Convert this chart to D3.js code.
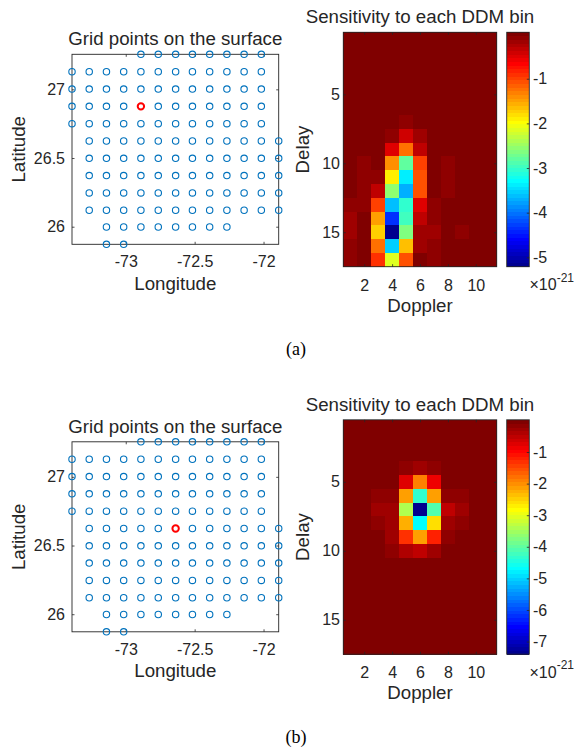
<!DOCTYPE html>
<html>
<head>
<meta charset="utf-8">
<script src="https://d3js.org/d3.v7.min.js"></script>
<style>
  body { margin: 0; background: #fff; }
  svg { display: block; }
</style>
</head>
<body>
<svg width="576" height="752"></svg>
<script>
const FONT = '"Liberation Sans", Arial, Helvetica, sans-serif';
const INK = "#262626";

// grid point longitudes (columns) and latitudes (rows, top row first)
const gridLon = [-73.390, -73.265, -73.140, -73.015, -72.890, -72.764, -72.638,
                 -72.516, -72.391, -72.266, -72.141, -72.016, -71.890];
const gridLat = [27.255, 27.128, 27.002, 26.876, 26.750, 26.624,
                 26.498, 26.372, 26.246, 26.120, 25.998, 25.872];
// first and last column that has a point, for each row
const rowFirst = [4, 0, 0, 0, 0, 1, 1, 1, 1, 1, 2, 2];
const rowLast  = [11, 11, 11, 11, 11, 12, 12, 12, 12, 12, 9, 3];
// highlighted (red) grid point of each case
const targetA = [-72.890, 26.876];
const targetB = [-72.638, 26.624];

const lonLim = [-73.390, -71.890];
const latLim = [25.872, 27.255];
const lonTicks = [-73, -72.5, -72];
const latTicks = [26, 26.5, 27];

const dopplerTicks = [2, 4, 6, 8, 10];
const delayTicks = [5, 10, 15];

// sensitivity (x 1e-21), rows = delay 1..17, columns = doppler 1..11
const sensA = [
  [0, 0, 0, 0, 0, 0, 0, 0, 0, 0, 0],
  [0, 0, 0, 0, 0, 0, 0, 0, 0, 0, 0],
  [0, 0, 0, 0, 0, 0, 0, 0, 0, 0, 0],
  [0, 0, 0, 0, 0, 0, 0, 0, 0, 0, 0],
  [0, 0, 0, 0, 0, 0, 0, 0, 0, 0, 0],
  [0, 0, 0, 0, 0, 0, 0, 0, 0, 0, 0],
  [0, 0, 0, 0, -0.1, 0, 0, 0, 0, 0, 0],
  [0, 0, 0, -0.12, -0.4, -0.2, 0, 0, 0, 0, 0],
  [0, 0, 0, -0.5, -1.23, -0.35, 0, 0, 0, 0, 0],
  [0, -0.1, 0, -1.4, -2.8, -0.98, 0, -0.1, 0, 0, 0],
  [0, -0.1, -0.1, -1.89, -3.37, -1.07, 0, -0.1, 0, 0, 0],
  [0, -0.1, -0.35, -2.57, -3.7, -1.07, 0, -0.1, 0, 0, 0],
  [-0.1, -0.1, -0.98, -3.61, -3.0, -0.5, -0.1, 0, 0, 0, 0],
  [-0.17, 0, -1.47, -4.35, -2.92, -0.35, -0.12, 0, 0, 0, 0],
  [-0.17, 0, -1.72, -5.21, -2.66, -0.17, -0.15, 0, -0.1, 0, 0],
  [-0.12, 0, -1.23, -3.53, -1.64, -0.17, -0.12, 0, 0, 0, 0],
  [-0.12, 0, -0.9, -2.13, -1.07, 0.04, -0.12, 0, 0, 0, 0]
];
const sensB = [
  [0, 0, 0, 0, 0, 0, 0, 0, 0, 0, 0],
  [0, 0, 0, 0, 0, 0, 0, 0, 0, 0, 0],
  [0, 0, 0, 0, 0, 0, 0, 0, 0, 0, 0],
  [0, 0, 0, 0, -0.15, -0.3, -0.15, 0, 0, 0, 0],
  [0, 0, 0, 0, -0.74, -1.85, -0.9, 0, 0, 0, 0],
  [0, 0, -0.15, -0.15, -2.08, -4.3, -2.08, -0.15, -0.15, 0, 0],
  [0, 0, -0.27, -0.27, -3.4, -7.4, -4.1, -0.45, -0.27, 0, 0],
  [0, 0, -0.15, -0.27, -2.2, -4.68, -2.55, -0.27, -0.15, 0, 0],
  [0, 0, 0, -0.27, -1.27, -2.08, -1.15, -0.15, 0, 0, 0],
  [0, 0, 0, -0.15, -0.39, -0.5, -0.27, 0, 0, 0, 0],
  [0, 0, 0, 0, 0, 0, 0, 0, 0, 0, 0],
  [0, 0, 0, 0, 0, 0, 0, 0, 0, 0, 0],
  [0, 0, 0, 0, 0, 0, 0, 0, 0, 0, 0],
  [0, 0, 0, 0, 0, 0, 0, 0, 0, 0, 0],
  [0, 0, 0, 0, 0, 0, 0, 0, 0, 0, 0],
  [0, 0, 0, 0, 0, 0, 0, 0, 0, 0, 0],
  [0, 0, 0, 0, 0, 0, 0, 0, 0, 0, 0]
];
const climA = [-5.21, 0.04];
const climB = [-7.40, 0.02];
const cbTicksA = [-5, -4, -3, -2, -1];
const cbTicksB = [-7, -6, -5, -4, -3, -2, -1];

// matlab jet(m)
function jet(m) {
  const n = Math.ceil(m / 4);
  const u = [];
  for (let i = 1; i <= n; i++) u.push(i / n);
  for (let i = 1; i < n; i++) u.push(1);
  for (let i = n; i >= 1; i--) u.push(i / n);
  const off = Math.ceil(n / 2) - (m % 4 === 1 ? 1 : 0);
  const val = k => (k >= 1 && k <= u.length) ? u[k - 1] : 0;
  const out = [];
  for (let i = 1; i <= m; i++) {
    out.push(d3.rgb(255 * val(i - off - n), 255 * val(i - off), 255 * val(i - off + n)).formatHex());
  }
  return out;
}
const jetColors = jet(64);

const svg = d3.select("svg");
const TICKFS = 16;

function styleAxis(sel) {
  sel.attr("font-family", FONT).attr("font-size", TICKFS).attr("color", INK);
  sel.select(".domain").remove();
  sel.selectAll("line").attr("stroke-width", 0.8);
}

function panel(dy, target, sens, clim, cbTicks, caption) {
  const g = svg.append("g").attr("transform", `translate(0,${dy})`);
  const tl = 2.5;

  // ---- left: grid points ----
  const x = d3.scaleLinear().domain(lonLim).range([72, 278.7]);
  const y = d3.scaleLinear().domain(latLim).range([244.3, 54.3]);

  g.append("g").attr("transform", "translate(0,244.3)")
    .call(d3.axisBottom(x).tickValues(lonTicks).tickFormat(d => String(d))
      .tickSizeInner(-tl).tickSizeOuter(0).tickPadding(11.6)).call(styleAxis);
  g.append("g").attr("transform", "translate(0,54.3)")
    .call(d3.axisTop(x).tickValues(lonTicks).tickFormat("").tickSizeInner(-tl).tickSizeOuter(0))
    .call(styleAxis);
  g.append("g").attr("transform", "translate(72,0)")
    .call(d3.axisLeft(y).tickValues(latTicks).tickFormat(d => String(d))
      .tickSizeInner(-tl).tickSizeOuter(0).tickPadding(7)).call(styleAxis);
  g.append("g").attr("transform", "translate(278.7,0)")
    .call(d3.axisRight(y).tickValues(latTicks).tickFormat("").tickSizeInner(-tl).tickSizeOuter(0))
    .call(styleAxis);

  g.append("rect").attr("x", 72).attr("y", 54.3).attr("width", 206.7).attr("height", 190)
    .attr("fill", "none").attr("stroke", INK).attr("stroke-width", 0.9);

  const pts = [];
  gridLat.forEach((lat, r) => {
    for (let k = rowFirst[r]; k <= rowLast[r]; k++) pts.push([gridLon[k], lat]);
  });
  g.append("g").selectAll("circle")
    .data(pts.filter(p => !(p[0] === target[0] && p[1] === target[1])))
    .join("circle")
    .attr("cx", d => x(d[0])).attr("cy", d => y(d[1])).attr("r", 3.2)
    .attr("fill", "none").attr("stroke", "#0072BD").attr("stroke-width", 1.1);
  g.append("circle").attr("cx", x(target[0])).attr("cy", y(target[1])).attr("r", 3.2)
    .attr("fill", "none").attr("stroke", "#FF0000").attr("stroke-width", 2);

  g.append("text").attr("x", 175.3).attr("y", 45).attr("text-anchor", "middle")
    .attr("font-family", FONT).attr("font-size", 18.7).attr("fill", INK)
    .text("Grid points on the surface");
  g.append("text").attr("x", 175.3).attr("y", 289.5).attr("text-anchor", "middle")
    .attr("font-family", FONT).attr("font-size", 18.7).attr("fill", INK)
    .text("Longitude");
  g.append("text").attr("transform", "translate(25,149.3) rotate(-90)").attr("text-anchor", "middle")
    .attr("font-family", FONT).attr("font-size", 18.7).attr("fill", INK)
    .text("Latitude");

  // ---- right: DDM sensitivity ----
  const hx = d3.scaleLinear().domain([0.5, 11.5]).range([343.3, 496.7]);
  const hy = d3.scaleLinear().domain([0.5, 17.5]).range([32.3, 266.7]);
  const color = d3.scaleQuantize().domain(clim).range(jetColors);

  const cells = sens.flatMap((row, i) => row.map((v, j) => ({ delay: i + 1, doppler: j + 1, v })));
  g.append("g").attr("shape-rendering", "crispEdges").selectAll("rect")
    .data(cells).join("rect")
    .attr("x", d => hx(d.doppler - 0.5)).attr("y", d => hy(d.delay - 0.5))
    .attr("width", d => hx(d.doppler + 0.5) - hx(d.doppler - 0.5) + 0.3)
    .attr("height", d => hy(d.delay + 0.5) - hy(d.delay - 0.5) + 0.3)
    .attr("fill", d => color(d.v));

  g.append("g").attr("transform", "translate(0,266.7)")
    .call(d3.axisBottom(hx).tickValues(dopplerTicks).tickFormat(d => String(d))
      .tickSizeInner(-tl).tickSizeOuter(0).tickPadding(12.6)).call(styleAxis);
  g.append("g").attr("transform", "translate(0,32.3)")
    .call(d3.axisTop(hx).tickValues(dopplerTicks).tickFormat("").tickSizeInner(-tl).tickSizeOuter(0))
    .call(styleAxis);
  g.append("g").attr("transform", "translate(343.3,0)")
    .call(d3.axisLeft(hy).tickValues(delayTicks).tickFormat(d => String(d))
      .tickSizeInner(-tl).tickSizeOuter(0).tickPadding(3.3)).call(styleAxis);
  g.append("g").attr("transform", "translate(496.7,0)")
    .call(d3.axisRight(hy).tickValues(delayTicks).tickFormat("").tickSizeInner(-tl).tickSizeOuter(0))
    .call(styleAxis);
  g.append("rect").attr("x", 343.3).attr("y", 32.3).attr("width", 153.4).attr("height", 234.4)
    .attr("fill", "none").attr("stroke", INK).attr("stroke-width", 0.9);

  g.append("text").attr("x", 420).attr("y", 23).attr("text-anchor", "middle")
    .attr("font-family", FONT).attr("font-size", 18.7).attr("fill", INK)
    .text("Sensitivity to each DDM bin");
  g.append("text").attr("x", 420).attr("y", 311.5).attr("text-anchor", "middle")
    .attr("font-family", FONT).attr("font-size", 18.7).attr("fill", INK)
    .text("Doppler");
  g.append("text").attr("transform", "translate(309,149.5) rotate(-90)").attr("text-anchor", "middle")
    .attr("font-family", FONT).attr("font-size", 18.7).attr("fill", INK)
    .text("Delay");

  // ---- colorbar ----
  const cb = d3.scaleLinear().domain(clim).range([266.7, 32.3]);
  const step = (clim[1] - clim[0]) / jetColors.length;
  g.append("g").attr("shape-rendering", "crispEdges").selectAll("rect")
    .data(jetColors).join("rect")
    .attr("x", 506.7).attr("width", 22.6)
    .attr("y", (c, i) => cb(clim[0] + (i + 1) * step))
    .attr("height", (c, i) => cb(clim[0] + i * step) - cb(clim[0] + (i + 1) * step) + 0.4)
    .attr("fill", c => c);
  g.append("g").attr("transform", "translate(529.3,0)")
    .call(d3.axisRight(cb).tickValues(cbTicks).tickFormat(d => String(d))
      .tickSizeInner(-tl).tickSizeOuter(0).tickPadding(3.7)).call(styleAxis);
  g.append("rect").attr("x", 506.7).attr("y", 32.3).attr("width", 22.6).attr("height", 234.4)
    .attr("fill", "none").attr("stroke", INK).attr("stroke-width", 0.9);

  const ex = g.append("text").attr("x", 529.5).attr("y", 290)
    .attr("font-family", FONT).attr("font-size", TICKFS).attr("fill", INK);
  ex.append("tspan").text("\u00d710");
  ex.append("tspan").attr("font-size", 12).attr("dy", -8.5).text("-21");

  // caption
  svg.append("text").attr("x", 296).attr("y", dy + 355).attr("text-anchor", "middle")
    .attr("font-family", '"Liberation Serif", "Times New Roman", serif')
    .attr("font-size", 18).attr("fill", "#000").text(caption);
}

panel(0, targetA, sensA, climA, cbTicksA, "(a)");
panel(387.5, targetB, sensB, climB, cbTicksB, "(b)");
</script>
</body>
</html>
